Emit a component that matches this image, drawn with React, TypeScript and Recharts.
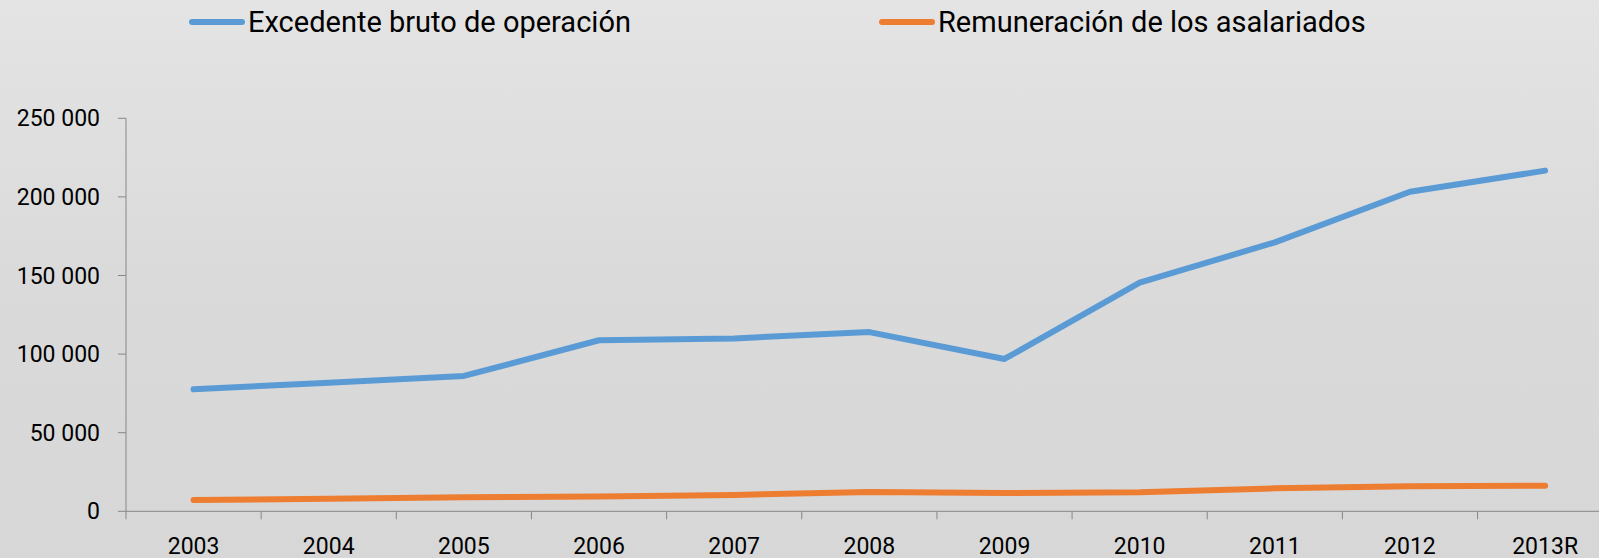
import React from 'react';
import { LineChart, Line, XAxis, YAxis, Legend } from 'recharts';

const categories = ['2003', '2004', '2005', '2006', '2007', '2008', '2009', '2010', '2011', '2012', '2013R'];
const excedente = [77600, 81800, 86100, 108800, 110000, 114000, 96900, 145400, 171100, 203300, 216700];
const remuneracion = [7200, 8000, 8900, 9400, 10400, 12300, 11600, 12100, 14600, 15900, 16300];
const yTicks = [0, 50000, 100000, 150000, 200000, 250000];
const seriesNames = ['Excedente bruto de operación', 'Remuneración de los asalariados'];
const seriesColors = ['#5b9bd5', '#ed7d31'];

const data = categories.map((c, i) => ({
  year: c,
  excedente: excedente[i],
  remuneracion: remuneracion[i],
}));

const CHART_W = 1640;
const CHART_H = 558;
const PLOT_LEFT = 126;
const PLOT_RIGHT = 1612.7;
const PLOT_TOP = 118.3;
const PLOT_BOTTOM = 511.3;
const HALF = (PLOT_RIGHT - PLOT_LEFT) / categories.length / 2;
const AXIS_COLOR = '#878787';
const FONT = 'Roboto, sans-serif';

const fmt = (v: number) => String(v).replace(/\B(?=(\d{3})+(?!\d))/g, ' ');

const XTick = (props: any) => {
  const { x, payload } = props;
  return (
    <g>
      <line x1={x - HALF} x2={x - HALF} y1={PLOT_BOTTOM} y2={PLOT_BOTTOM + 8} stroke={AXIS_COLOR} strokeWidth={1} />
      <text x={x} y={554} textAnchor="middle" fill="#000" fontSize={23} fontFamily={FONT}>
        {payload.value}
      </text>
    </g>
  );
};

const legendPos = [
  { line: 189, text: 248 },
  { line: 879, text: 938 },
];

const LegendContent = () => (
  <div style={{ position: 'relative', width: 1599, height: 50 }}>
    {seriesNames.map((name, i) => (
      <div key={name}>
        <div
          style={{
            position: 'absolute',
            left: legendPos[i].line,
            top: 19,
            width: 56,
            height: 6,
            borderRadius: 3,
            background: seriesColors[i],
          }}
        />
        <div
          style={{
            position: 'absolute',
            left: legendPos[i].text,
            top: 4,
            fontSize: 29,
            lineHeight: '36px',
            fontFamily: FONT,
            color: '#000',
            whiteSpace: 'nowrap',
          }}
        >
          {name}
        </div>
      </div>
    ))}
  </div>
);

export default function App() {
  return (
    <div
      style={{
        position: 'fixed',
        left: 0,
        top: 0,
        width: 1599,
        height: 558,
        overflow: 'hidden',
        background: 'linear-gradient(to bottom, #e4e4e4 0%, #dadada 50%, #d7d7d7 100%)',
        fontFamily: FONT,
      }}
    >
      <LineChart
        width={CHART_W}
        height={CHART_H}
        data={data}
        margin={{ top: PLOT_TOP, right: CHART_W - PLOT_RIGHT, bottom: 0, left: 0 }}
      >
        <Legend
          layout="horizontal"
          verticalAlign="middle"
          align="center"
          wrapperStyle={{ top: 0, left: 0, width: 1599, height: 50 }}
          content={<LegendContent />}
        />
        <XAxis
          dataKey="year"
          height={CHART_H - PLOT_BOTTOM}
          padding={{ left: HALF, right: HALF }}
          axisLine={{ stroke: AXIS_COLOR, strokeWidth: 1 }}
          tickLine={false}
          tick={<XTick />}
          interval={0}
        />
        <YAxis
          width={PLOT_LEFT}
          domain={[0, 250000]}
          ticks={yTicks}
          tickFormatter={fmt}
          axisLine={{ stroke: AXIS_COLOR, strokeWidth: 1 }}
          tickLine={{ stroke: AXIS_COLOR, strokeWidth: 1 }}
          tickSize={8}
          tickMargin={18}
          tick={{ fill: '#000', fontSize: 23, fontFamily: FONT }}
          interval={0}
        />
        <Line
          dataKey="excedente"
          name={seriesNames[0]}
          stroke={seriesColors[0]}
          strokeWidth={6}
          strokeLinecap="round"
          strokeLinejoin="round"
          dot={false}
          activeDot={false}
          isAnimationActive={false}
        />
        <Line
          dataKey="remuneracion"
          name={seriesNames[1]}
          stroke={seriesColors[1]}
          strokeWidth={6}
          strokeLinecap="round"
          strokeLinejoin="round"
          dot={false}
          activeDot={false}
          isAnimationActive={false}
        />
      </LineChart>
    </div>
  );
}
